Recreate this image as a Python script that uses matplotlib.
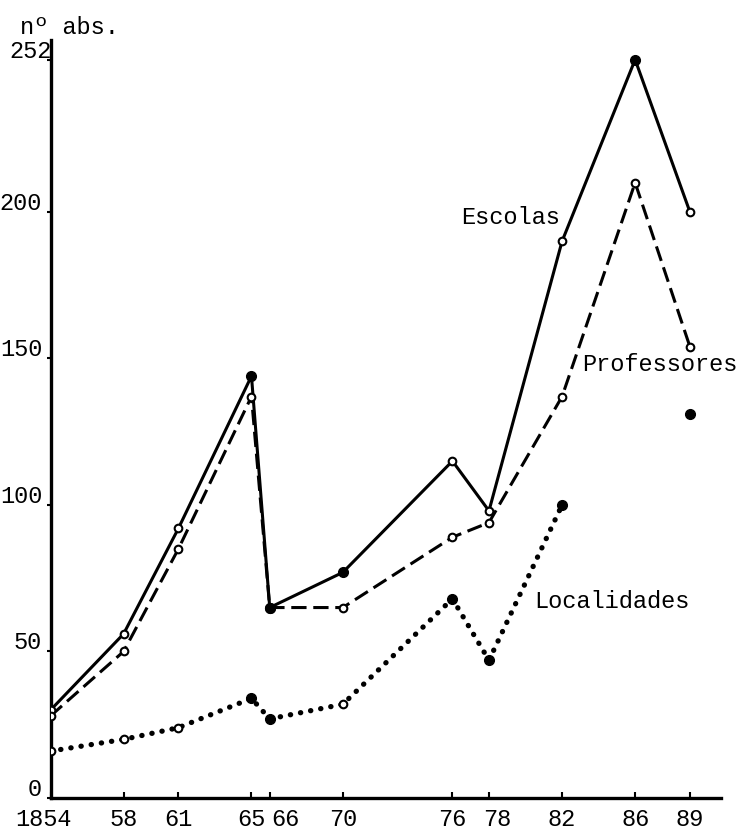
import numpy as np
import matplotlib
matplotlib.use("Agg")
import matplotlib.pyplot as plt
from matplotlib.transforms import ScaledTranslation

# Dados (nº absoluto por ano)
anos = [1854, 1858, 1861, 1865, 1866, 1870, 1876, 1878, 1882, 1886, 1889]
escolas = [30, 56, 92, 144, 65, 77, 115, 98, 190, 252, 200]
professores = [28, 50, 85, 137, 65, 65, 89, 94, 137, 210, 154]
localidades = [16, 20, 24, 34, 27, 32, 68, 47, 100, np.nan, 131]

x_labels = ["1854", "58", "61", "65", "66", "70", "76", "78", "82", "86", "89"]
y_ticks = [0, 50, 100, 150, 200, 252]
y_labels = ["0", "50", "100", "150", "200", "252"]

# pontos desenhados cheios (os restantes são círculos abertos)
esc_cheios = [1865, 1866, 1870, 1886]
prof_cheios = [1866]
loc_cheios = [1865, 1866, 1876, 1878, 1882, 1889]

plt.rcParams['font.family'] = ['Liberation Mono', 'DejaVu Sans Mono']

fig = plt.figure(figsize=(7.49, 8.30), dpi=100)
ax = fig.add_axes([50.5 / 749, 32 / 830, (721 - 50.5) / 749, (798 - 40) / 830])


def desenha(serie, estilo, lw, cheios, capstyle='butt'):
    ax.plot(anos, serie, color='black', linestyle=estilo, linewidth=lw,
            dash_capstyle=capstyle, solid_capstyle='round', zorder=2)
    for ano, v in zip(anos, serie):
        if np.isnan(v):
            continue
        if ano in cheios:
            ax.plot(ano, v, 'o', color='black', markersize=7, zorder=3)
        else:
            ax.plot(ano, v, 'o', markerfacecolor='white', markeredgecolor='black',
                    markeredgewidth=1.5, markersize=5.5, zorder=3)


desenha(escolas, '-', 2.2, esc_cheios)
desenha(professores, (0, (5, 2.2)), 2.2, prof_cheios)
desenha(localidades, (0, (0.05, 1.9)), 3.8, loc_cheios, capstyle='round')

ax.text(1876.5, 198, "Escolas", fontsize=17, ha='left', va='center')
ax.text(1883.1, 148, "Professores", fontsize=17, ha='left', va='center')
ax.text(1880.5, 67, "Localidades", fontsize=17, ha='left', va='center')

ax.set_xlim(1854, 1890.7)
ax.set_ylim(0, 258.7)

for s in ['top', 'right']:
    ax.spines[s].set_visible(False)
for s in ['left', 'bottom']:
    ax.spines[s].set_linewidth(2.4)

ax.set_xticks(anos)
ax.set_xticklabels(x_labels, fontsize=17)
ax.tick_params(axis='x', direction='in', length=4, width=1.5, pad=7)
ax.set_yticks(y_ticks)
ax.set_yticklabels(y_labels, fontsize=17)
ax.tick_params(axis='y', direction='out', length=3, width=1.5, pad=3)

# ajustes finos das etiquetas, como na folha dactilografada
desloc_x = {"1854": -7, "66": 16, "78": 8}
for lab in ax.get_xticklabels():
    dx = desloc_x.get(lab.get_text(), 0)
    if dx:
        lab.set_transform(lab.get_transform() + ScaledTranslation(dx / 100, 0, fig.dpi_scale_trans))
for lab in ax.get_yticklabels():
    dx = 10 if lab.get_text() == "252" else 0
    lab.set_transform(lab.get_transform() + ScaledTranslation(dx / 100, 11 / 100, fig.dpi_scale_trans))

fig.text(20 / 749, 1 - 27 / 830, "nº abs.", fontsize=17, ha='left', va='center')

fig.savefig("out.png", dpi=100)
